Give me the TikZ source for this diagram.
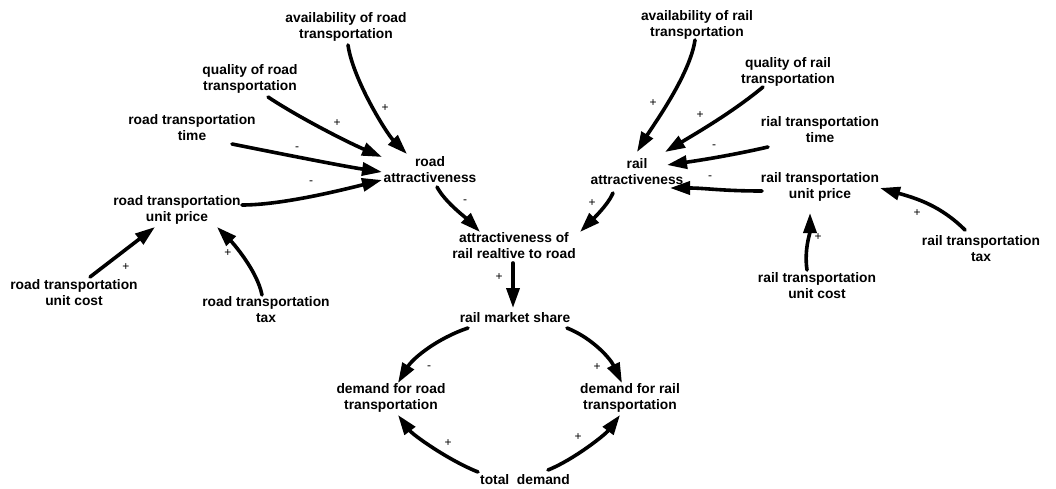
\documentclass[tikz,border=0pt]{standalone}
\usepackage{fontspec}
\setmainfont{Liberation Sans}
\usetikzlibrary{arrows.meta}
\tikzset{
  var/.style={font=\bfseries\fontsize{13.8}{16}\selectfont, align=center, inner sep=0pt},
  sgn/.style={font=\fontsize{12}{14}\selectfont, inner sep=0pt},
  link/.style={line width=3.6pt, line cap=round, -{Triangle[length=20pt,width=13pt]}}
}
\begin{document}
\begin{tikzpicture}[x=1pt,y=-1pt]
\useasboundingbox (0,0) rectangle (1056,489);

% variables
\node[var] (availRoad) at (346,27)  {availability of road\\transportation};
\node[var] (qualRoad)  at (250,79)  {quality of road\\transportation};
\node[var] (timeRoad)  at (192,128) {road transportation\\time};
\node[var] (priceRoad) at (177,210) {road transportation\\unit price};
\node[var] (roadAttr)  at (430,170) {road\\attractiveness};
\node[var] (costRoad)  at (74,293)  {road transportation\\unit cost};
\node[var] (taxRoad)   at (266,310) {road transportation\\tax};
\node[var] (relAttr)   at (514,246) {attractiveness of\\rail realtive to road};
\node[var] (share)     at (515,318) {rail market share};
\node[var] (demRoad)   at (391,398) {demand for road\\transportation};
\node[var] (demRail)   at (630,398) {demand for rail\\transportation};
\node[var] (total)     at (525,480) {total\ \ demand};
\node[var] (availRail) at (697,25)  {availability of rail\\transportation};
\node[var] (qualRail)  at (788,72)  {quality of rail\\transportation};
\node[var] (timeRail)  at (820,130) {rial transportation\\time};
\node[var] (railAttr)  at (637,172) {rail\\attractiveness};
\node[var] (priceRail) at (820,187) {rail transportation\\unit price};
\node[var] (taxRail)   at (981,249) {rail transportation\\tax};
\node[var] (costRail)  at (817,286) {rail transportation\\unit cost};

% causal links, road side
\draw[link] ([shift={(2,18)}]availRoad.center) .. controls +(5,35) and +(-20,-20) .. ([shift={(-23,-16)}]roadAttr.center);
\draw[link] ([shift={(18,18)}]qualRoad.center) .. controls +(30,20) and +(-35,-15) .. ([shift={(-48,-13)}]roadAttr.center);
\draw[link] ([shift={(40,16)}]timeRoad.center) .. controls +(40,8) and +(-40,-6) .. ([shift={(-48,2)}]roadAttr.center);
\draw[link] ([shift={(65,-5)}]priceRoad.center) .. controls +(40,0) and +(-40,10) .. ([shift={(-48,10)}]roadAttr.center);
\draw[link] ([shift={(16,-16)}]costRoad.center) -- ([shift={(-22,17)}]priceRoad.center);
\draw[link] ([shift={(-4,-15)}]taxRoad.center) .. controls +(-5,-25) and +(15,15) .. ([shift={(40,17)}]priceRoad.center);
\draw[link] ([shift={(7,17)}]roadAttr.center) .. controls +(8,15) and +(-15,-15) .. ([shift={(-34,-14)}]relAttr.center);

% causal links, rail side
\draw[link] ([shift={(-2,15)}]availRail.center) .. controls +(-5,35) and +(15,-25) .. ([shift={(0,-20)}]railAttr.center);
\draw[link] ([shift={(-25,15)}]qualRail.center) .. controls +(-30,25) and +(30,-18) .. ([shift={(28,-20)}]railAttr.center);
\draw[link] ([shift={(-52,17)}]timeRail.center) .. controls +(-35,8) and +(35,-5) .. ([shift={(30,-7)}]railAttr.center);
\draw[link] ([shift={(-58,4)}]priceRail.center) .. controls +(-40,0) and +(35,0) .. ([shift={(33,16)}]railAttr.center);
\draw[link] ([shift={(-10,-16)}]costRail.center) .. controls +(-3,-20) and +(0,20) .. ([shift={(-10,26)}]priceRail.center);
\draw[link] ([shift={(-16,-19)}]taxRail.center) .. controls +(-25,-25) and +(35,10) .. ([shift={(60,1)}]priceRail.center);
\draw[link] ([shift={(-24,21)}]railAttr.center) .. controls +(-5,12) and +(12,-12) .. ([shift={(66,-14)}]relAttr.center);

% causal links, market share loop
\draw[link] ([shift={(-1,17)}]relAttr.center) -- ([shift={(-2,-10)}]share.center);
\draw[link] ([shift={(-47,10)}]share.center) .. controls +(-30,10) and +(15,-25) .. ([shift={(7,-15)}]demRoad.center);
\draw[link] ([shift={(52,10)}]share.center) .. controls +(25,10) and +(-12,-25) .. ([shift={(-8,-15)}]demRail.center);
\draw[link] ([shift={(-47,-8)}]total.center) .. controls +(-30,-12) and +(15,20) .. ([shift={(7,17)}]demRoad.center);
\draw[link] ([shift={(23,-10)}]total.center) .. controls +(25,-10) and +(-15,20) .. ([shift={(-10,17)}]demRail.center);

% polarities
\node[sgn] (s1)  at (385,108) {+};
\node[sgn] (s2)  at (337,123) {+};
\node[sgn] (s3)  at (297,149) {-};
\node[sgn] (s4)  at (311,183) {-};
\node[sgn] (s5)  at (465,202) {-};
\node[sgn] (s6)  at (126,267) {+};
\node[sgn] (s7)  at (228,253) {+};
\node[sgn] (s8)  at (592,203) {+};
\node[sgn] (s9)  at (499,277) {+};
\node[sgn] (s10) at (429,368) {-};
\node[sgn] (s11) at (597,367) {+};
\node[sgn] (s12) at (448,443) {+};
\node[sgn] (s13) at (578,437) {+};
\node[sgn] (s14) at (653,103) {+};
\node[sgn] (s15) at (700,115) {+};
\node[sgn] (s16) at (714,147) {-};
\node[sgn] (s17) at (710,178) {-};
\node[sgn] (s18) at (818,237) {+};
\node[sgn] (s19) at (917,213) {+};
\end{tikzpicture}
\end{document}
